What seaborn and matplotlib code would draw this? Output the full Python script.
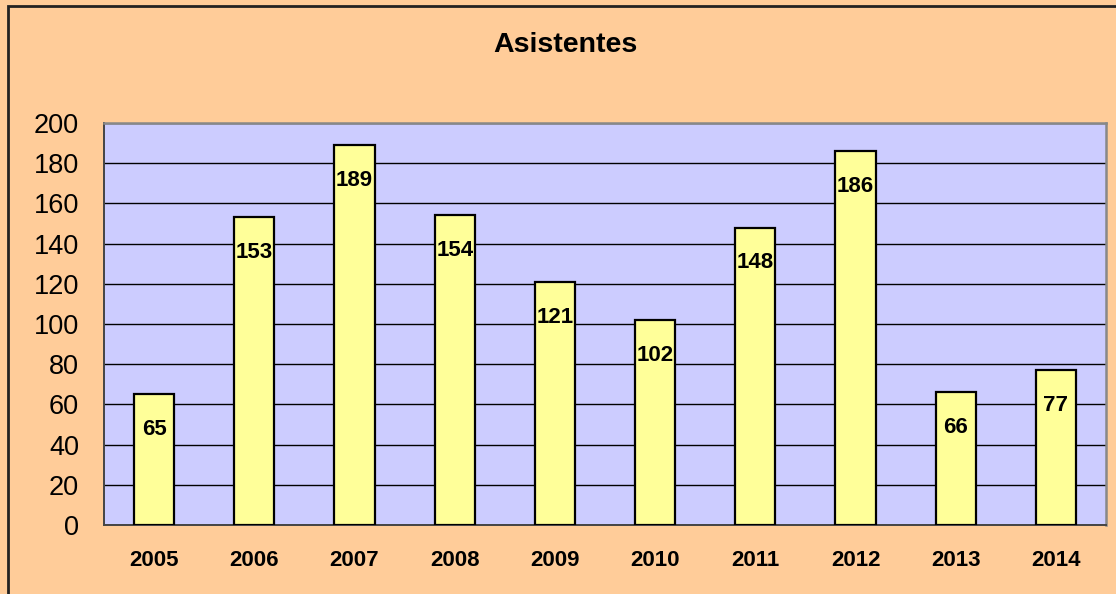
import matplotlib
matplotlib.use("Agg")
import matplotlib.pyplot as plt
from matplotlib.patches import Rectangle
from matplotlib.ticker import FixedLocator
import seaborn as sns
import pandas as pd

# Attendance per year
years = ["2005", "2006", "2007", "2008", "2009", "2010", "2011", "2012", "2013", "2014"]
attendees = [65, 153, 189, 154, 121, 102, 148, 186, 66, 77]
title = "Asistentes"

sns.set_theme(style="white")
plt.rcParams["font.family"] = ["Liberation Sans", "DejaVu Sans"]

df = pd.DataFrame({"year": years, "attendees": attendees})

fig = plt.figure(figsize=(11.16, 5.94), dpi=100, facecolor="#FFCC99")
ax = fig.add_axes([104 / 1116, 1 - 525 / 594, (1106 - 104) / 1116, (525 - 123) / 594])
ax.set_facecolor("#CCCCFF")

sns.barplot(data=df, x="year", y="attendees", ax=ax, color="#FFFF99",
            edgecolor="black", linewidth=1.6, width=0.4, saturation=1, zorder=3)

ax.set_ylim(0, 200)
ax.set_xlim(-0.5, len(years) - 0.5)
ax.set_yticks(range(0, 201, 20))
ax.yaxis.grid(True, color="black", linewidth=1.0, zorder=1)
ax.set_axisbelow(True)
ax.set_xlabel("")
ax.set_ylabel("")

# Category boundary ticks on the x axis
ax.xaxis.set_minor_locator(FixedLocator([i - 0.5 for i in range(len(years) + 1)]))
ax.tick_params(axis="x", which="major", length=0, pad=18, labelsize=16)
ax.tick_params(axis="x", which="minor", length=4, width=1.2, color="#555555", direction="out")
ax.tick_params(axis="y", which="major", length=5, width=1.2, color="#555555",
               direction="out", pad=13, labelsize=19.5, labelcolor="black")
for lbl in ax.get_xticklabels():
    lbl.set_fontweight("bold")
ax.tick_params(axis="x", labelcolor="black")

for side in ("left", "bottom"):
    ax.spines[side].set_color("#444444")
    ax.spines[side].set_linewidth(1.4)
for side in ("top", "right"):
    ax.spines[side].set_color("#888888")
    ax.spines[side].set_linewidth(1.8)
for s in ax.spines.values():
    s.set_visible(True)

# Value labels inside the top of each bar
for container in ax.containers:
    ax.bar_label(container, labels=[str(v) for v in attendees], label_type="edge",
                 padding=-33, fontsize=16, fontweight="bold", color="black", zorder=4)

fig.text(565 / 1116, 1 - 45 / 594, title, ha="center", va="center",
         fontsize=20.5, fontweight="bold", color="black")

# Chart area border
fig.patches.append(Rectangle((8 / 1116, -0.1), 1.2, 1 - 6 / 594 + 0.1,
                             transform=fig.transFigure, fill=False,
                             edgecolor="#222222", linewidth=2))

fig.savefig("out.png", dpi=100, facecolor=fig.get_facecolor())
